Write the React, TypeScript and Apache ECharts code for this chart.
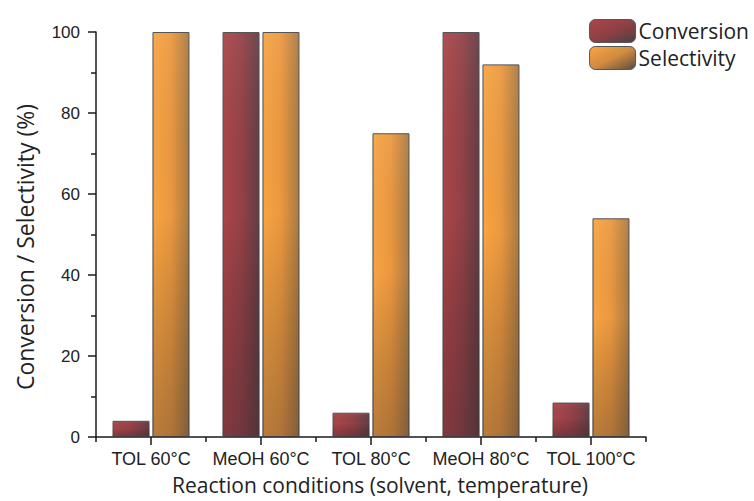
import React, { useEffect, useRef } from "react";
import * as echarts from "echarts";

const categories = ["TOL 60°C", "MeOH 60°C", "TOL 80°C", "MeOH 80°C", "TOL 100°C"];
const conversion = [4, 100, 6, 100, 8.5];
const selectivity = [100, 100, 75, 92, 54];
const yTicks = [0, 20, 40, 60, 80, 100];

const convGrad = () =>
  new echarts.graphic.LinearGradient(0, 0, 1, 0, [
    { offset: 0, color: "#aa4549" },
    { offset: 0.5, color: "#944147" },
    { offset: 1, color: "#653d43" },
  ]);
const selGrad = () =>
  new echarts.graphic.LinearGradient(0, 0, 1, 0, [
    { offset: 0, color: "#f8a443" },
    { offset: 0.5, color: "#eb983f" },
    { offset: 1, color: "#aa7a42" },
  ]);
const shadeGrad = () =>
  new echarts.graphic.LinearGradient(0, 0, 0, 1, [
    { offset: 0, color: "rgba(255,255,255,0.06)" },
    { offset: 0.45, color: "rgba(0,0,0,0)" },
    { offset: 1, color: "rgba(35,30,40,0.3)" },
  ]);
const convLegend = () =>
  new echarts.graphic.LinearGradient(0, 0, 1, 1, [
    { offset: 0, color: "#ad4649" },
    { offset: 0.5, color: "#8f4045" },
    { offset: 1, color: "#4e4042" },
  ]);
const selLegend = () =>
  new echarts.graphic.LinearGradient(0, 0, 1, 1, [
    { offset: 0, color: "#fba443" },
    { offset: 0.5, color: "#d08c40" },
    { offset: 1, color: "#5a4a42" },
  ]);

export default function App() {
  const ref = useRef<HTMLDivElement>(null);
  useEffect(() => {
    if (!ref.current) return;
    const chart = echarts.init(ref.current, undefined, { renderer: "svg" });
    const axisColor = "#1a1a1a";
    const barCommon = { type: "bar", barWidth: "33.6%", barGap: "8%" };
    chart.setOption({
      animation: false,
      backgroundColor: "#ffffff",
      grid: { left: 96, right: 108, top: 32, bottom: 64, containLabel: false },
      legend: {
        right: 0,
        top: 14,
        orient: "vertical",
        itemWidth: 46,
        itemHeight: 23,
        itemGap: 3,
        textStyle: { fontFamily: "Open Sans", fontSize: 21, color: "#222", padding: [0, 0, 0, -2] },
        data: [
          { name: "Conversion", itemStyle: { color: convLegend(), borderColor: "#555", borderWidth: 1 } },
          { name: "Selectivity", itemStyle: { color: selLegend(), borderColor: "#555", borderWidth: 1 } },
        ],
      },
      graphic: [
        {
          type: "text",
          x: 25,
          y: 247,
          rotation: Math.PI / 2,
          style: {
            text: "Conversion / Selectivity (%)",
            fontFamily: "Open Sans",
            fontSize: 23,
            fill: "#222",
            textAlign: "center",
            textVerticalAlign: "middle",
          },
        },
        {
          type: "text",
          x: 380,
          y: 485,
          style: {
            text: "Reaction conditions (solvent, temperature)",
            fontFamily: "Open Sans",
            fontSize: 21,
            fill: "#222",
            textAlign: "center",
            textVerticalAlign: "middle",
          },
        },
      ],
      xAxis: [
        {
          type: "category",
          data: categories,
          axisLine: { show: true, lineStyle: { color: axisColor, width: 1.5 } },
          axisTick: { show: true, alignWithLabel: true, length: 8, lineStyle: { color: axisColor, width: 1.5 } },
          axisLabel: { interval: 0, fontFamily: "Liberation Sans", fontSize: 18, color: "#222", margin: 13 },
        },
        {
          type: "category",
          data: categories,
          position: "bottom",
          axisLine: { show: false },
          axisTick: { show: true, interval: 0, length: 5, lineStyle: { color: axisColor, width: 1.5 } },
          axisLabel: { show: false },
        },
      ],
      yAxis: {
        type: "value",
        min: yTicks[0],
        max: yTicks[yTicks.length - 1],
        interval: 20,
        axisLine: { show: true, lineStyle: { color: axisColor, width: 1.5 } },
        axisTick: { show: true, length: 8, lineStyle: { color: axisColor, width: 1.5 } },
        minorTick: { show: true, splitNumber: 2, length: 5, lineStyle: { color: axisColor, width: 1.5 } },
        splitLine: { show: false },
        axisLabel: { fontFamily: "Liberation Sans", fontSize: 17, color: "#222", margin: 16 },
      },
      series: [
        {
          ...barCommon,
          name: "Conversion",
          data: conversion,
          itemStyle: { color: convGrad(), borderColor: "#4a4a4a", borderWidth: 1 },
        },
        {
          ...barCommon,
          name: "Selectivity",
          data: selectivity,
          itemStyle: { color: selGrad(), borderColor: "#4a4a4a", borderWidth: 1 },
        },
        {
          ...barCommon,
          name: "conversion-shade",
          xAxisIndex: 1,
          data: conversion,
          silent: true,
          itemStyle: { color: shadeGrad(), borderWidth: 0 },
        },
        {
          ...barCommon,
          name: "selectivity-shade",
          xAxisIndex: 1,
          data: selectivity,
          silent: true,
          itemStyle: { color: shadeGrad(), borderWidth: 0 },
        },
      ],
    });
    return () => chart.dispose();
  }, []);
  return <div ref={ref} style={{ width: 754, height: 501, position: "absolute", left: 0, top: 0 }} />;
}
